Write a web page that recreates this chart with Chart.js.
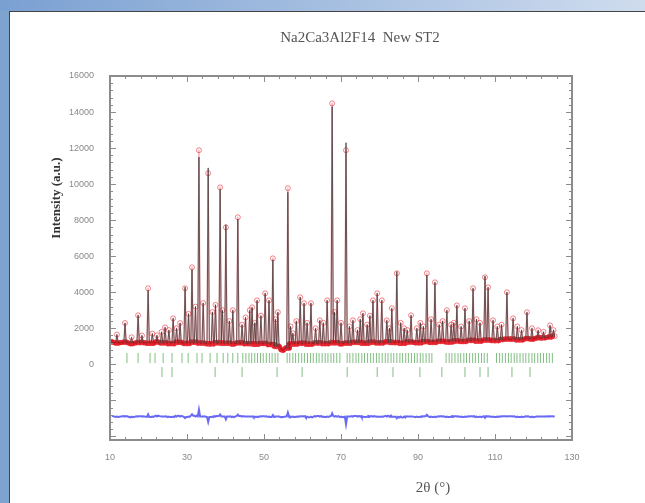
<!DOCTYPE html>
<html>
<head>
<meta charset="utf-8">
<script src="https://cdn.jsdelivr.net/npm/chart.js@4.4.0/dist/chart.umd.min.js"></script>
<style>
  html, body { margin: 0; padding: 0; background: #fff; }
  #frame { position: relative; width: 645px; height: 503px; background: #fff; overflow: hidden; }
  #leftbar { position: absolute; left: 0; top: 0; width: 9px; height: 503px; background: #7ea3cf; }
  #topbar { position: absolute; left: 0; top: 0; width: 645px; height: 11px; background: linear-gradient(to right, #7aa0d2, #cfdcee); }
  #edge { position: absolute; left: 9px; top: 11px; right: 0; bottom: 0; border-left: 1px solid #444; border-top: 1px solid #444; }
  canvas { position: absolute; left: 0; top: 0; }
</style>
</head>
<body>
<div id="frame">
  <div id="leftbar"></div>
  <div id="topbar"></div>
  <div id="edge"></div>
  <canvas id="rietveld" width="645" height="503"></canvas>
</div>
<script>
// tick labels
const xTicks = [10, 30, 50, 70, 90, 110, 130];
const yTicks = [0, 2000, 4000, 6000, 8000, 10000, 12000, 14000, 16000];

const peakPos = [11.8, 13.9, 15.6, 17.3, 18.3, 19.9, 21.0, 22.2, 23.4, 24.3, 25.3, 26.4, 27.3, 28.2, 29.5, 30.4, 31.3, 32.2, 33.1, 34.2,
  35.5, 36.6, 37.4, 38.6, 39.2, 40.1, 41.0, 41.9, 43.2, 44.3, 45.2, 46.3, 46.9, 47.6, 48.2, 49.2, 50.3, 51.3, 52.3, 53.0,
  53.6, 56.2, 56.9, 57.5, 58.4, 59.4, 60.4, 61.2, 62.2, 63.4, 64.5, 65.4, 66.4, 67.7, 68.3, 69.0, 70.0, 71.3, 72.2, 73.1,
  74.3, 75.0, 75.7, 76.8, 77.5, 78.3, 79.4, 80.6, 81.9, 82.6, 83.2, 84.5, 85.5, 86.4, 87.2, 88.2, 89.7, 90.6, 91.4, 92.3,
  93.4, 94.4, 95.5, 96.4, 97.5, 98.6, 99.3, 100.1, 101.2, 102.2, 103.3, 104.3, 105.2, 106.1, 107.4, 108.2, 109.5, 110.6, 111.7, 113.1,
  114.7, 115.8, 116.9, 118.3, 119.6, 121.2, 122.6, 124.3, 125.2];
const peakObs = [1650, 2290, 1500, 2720, 1600, 4220, 1700, 1610, 1800, 2050, 1900, 2550, 2000, 2290, 4220, 2800, 5380, 3200, 11880, 3400,
  10600, 2900, 3300, 9820, 3000, 7600, 2400, 3000, 8160, 2200, 2600, 3000, 3160, 2300, 3550, 2700, 3940, 3550, 5880, 2500,
  2890, 9770, 2100, 1720, 2400, 3720, 3390, 2300, 3390, 2000, 2440, 2300, 3550, 14480, 2900, 3550, 2300, 11880, 2100, 2440,
  1900, 2500, 2830, 2200, 2700, 3550, 3940, 3550, 2440, 2000, 3110, 5050, 2300, 2000, 1900, 2720, 2000, 2300, 2100, 5050,
  2500, 4550, 2200, 2400, 3000, 2200, 2300, 3270, 2100, 3110, 2400, 4220, 2500, 2300, 4830, 4270, 2440, 2100, 2200, 4000,
  2550, 2100, 1900, 2890, 2000, 1890, 1800, 2160, 1900];
const peakCalc = [1650, 2290, 1500, 2720, 1600, 4100, 1700, 1610, 1800, 2050, 1900, 2550, 2000, 2290, 4300, 2800, 5250, 3200, 11500, 3400,
  10900, 2900, 3300, 9700, 3000, 7750, 2400, 3000, 8050, 2200, 2600, 3000, 3160, 2300, 3550, 2700, 3940, 3550, 5800, 2500,
  2890, 9550, 2100, 1720, 2400, 3720, 3390, 2300, 3390, 2000, 2440, 2300, 3550, 14300, 2900, 3550, 2300, 12300, 2100, 2440,
  1900, 2500, 2830, 2200, 2700, 3550, 3940, 3550, 2440, 2000, 3110, 5150, 2300, 2000, 1900, 2720, 2000, 2300, 2100, 4950,
  2500, 4550, 2200, 2400, 3000, 2200, 2300, 3270, 2100, 3110, 2400, 4220, 2500, 2300, 4900, 4270, 2440, 2100, 2200, 4000,
  2550, 2100, 1900, 2890, 2000, 1890, 1800, 2160, 1900];

// background level between reflections
const bgPos = [10.5, 12, 14, 16, 18, 20, 22, 24, 26, 28, 30, 32, 34, 36, 38, 40, 42, 44, 46, 48,
  50, 52, 53.9, 54.4, 55, 55.6, 58, 60, 62, 64, 66, 68, 70, 72, 74, 76, 78, 80, 82, 84,
  86, 88, 90, 92, 94, 96, 98, 100, 102, 104, 106, 108, 110, 112, 114, 116, 118, 120, 122, 124, 125.6];
const bgObs = [1250, 1180, 1230, 1150, 1210, 1170, 1240, 1190, 1150, 1220, 1160, 1230, 1180, 1140, 1200, 1170, 1130, 1190, 1150, 1120,
  1160, 1100, 1000, 820, 780, 900, 1130, 1170, 1120, 1190, 1150, 1200, 1140, 1180, 1220, 1170, 1230, 1190, 1250, 1210,
  1170, 1240, 1200, 1260, 1220, 1280, 1240, 1300, 1270, 1330, 1290, 1350, 1320, 1380, 1400, 1360, 1430, 1400, 1470, 1520, 1560];
const bgCalc = [1210, 1200, 1200, 1190, 1190, 1190, 1190, 1180, 1180, 1180, 1180, 1180, 1170, 1170, 1170, 1160, 1160, 1160, 1150, 1150,
  1140, 1120, 1000, 850, 800, 900, 1150, 1150, 1160, 1160, 1170, 1170, 1170, 1180, 1190, 1190, 1200, 1200, 1210, 1220,
  1220, 1230, 1230, 1240, 1250, 1260, 1270, 1280, 1290, 1310, 1320, 1330, 1340, 1360, 1380, 1390, 1410, 1430, 1460, 1500, 1540];

// Bragg positions, two phases
const phase1 = [14.4, 17.3, 20.4, 21.7, 23.8, 26.1, 28.7, 30.3, 32.6, 33.9, 36.0, 37.8, 39.4, 40.6, 41.9, 43.2, 44.5, 45.3, 46.1, 46.8,
  47.6, 48.3, 49.1, 49.8, 50.6, 51.4, 52.1, 52.9, 53.6, 56.0, 56.7, 57.5, 58.2, 59.0, 59.8, 60.5, 61.3, 62.1, 62.8, 63.6,
  64.3, 65.1, 65.9, 66.6, 67.4, 68.1, 68.9, 69.7, 71.6, 72.3, 73.1, 73.9, 74.6, 75.4, 76.1, 76.9, 77.7, 78.4, 79.2, 79.9,
  80.7, 81.5, 82.2, 83.0, 83.7, 84.5, 85.3, 86.0, 86.8, 87.5, 88.3, 89.1, 89.8, 90.6, 91.3, 92.1, 92.9, 93.6, 97.3, 98.1,
  98.8, 99.6, 100.4, 101.1, 101.9, 102.6, 103.4, 104.2, 104.9, 105.7, 106.5, 107.2, 108.0, 110.4, 111.2, 111.9, 112.7, 113.5, 114.2, 115.0,
  115.7, 116.5, 117.3, 118.0, 118.8, 119.6, 120.3, 121.1, 121.8, 122.6, 123.4, 124.1, 124.9];
const phase2 = [23.5, 26.1, 37.3, 44.3, 53.4, 59.9, 71.6, 79.4, 83.5, 90.5, 96.2, 102.2, 106.1, 108.2, 114.4, 119.1];

const phase1Level = 350;
const phase2Level = -430;
const diffOffset = -2900;
const halfWidth = 0.3;

function nearestBg(arr, x) {
  let best = 0;
  for (let i = 1; i < bgPos.length; i++) {
    if (Math.abs(bgPos[i] - x) < Math.abs(bgPos[best] - x)) best = i;
  }
  return arr[best];
}

const obsPts = [];
const calcPts = [];
bgPos.forEach((x, i) => {
  if (peakPos.every(p => Math.abs(p - x) > 0.45)) {
    obsPts.push({ x: x, y: bgObs[i] });
    calcPts.push({ x: x, y: bgCalc[i] });
  }
});
peakPos.forEach((p, i) => {
  const bo = nearestBg(bgObs, p);
  const bc = nearestBg(bgCalc, p);
  obsPts.push({ x: p - halfWidth, y: bo }, { x: p, y: peakObs[i] }, { x: p + halfWidth, y: bo });
  calcPts.push({ x: p - halfWidth, y: bc }, { x: p, y: peakCalc[i] }, { x: p + halfWidth, y: bc });
});
obsPts.sort((a, b) => a.x - b.x);
calcPts.sort((a, b) => a.x - b.x);
const diffPts = obsPts.map((pt, i) => ({ x: pt.x, y: pt.y - calcPts[i].y + diffOffset }));

// baseline segments are drawn heavier, like the dense band of observed points
const isBase = c => Math.abs(c.p0.parsed.y - c.p1.parsed.y) < 250 && c.p0.parsed.y < 1700;

// inner ticks and box
const framePlugin = {
  id: 'frame',
  afterDatasetsDraw(chart) {
    const { ctx, chartArea: a, scales } = chart;
    ctx.save();
    ctx.strokeStyle = '#8c8c8c';
    ctx.lineWidth = 1;
    ctx.beginPath();
    for (let v = 10; v <= 130; v += 4) {
      const px = Math.round(scales.x.getPixelForValue(v)) + 0.5;
      const len = (v - 10) % 20 === 0 ? 6 : 3;
      ctx.moveTo(px, a.bottom); ctx.lineTo(px, a.bottom - len);
      ctx.moveTo(px, a.top); ctx.lineTo(px, a.top + len);
    }
    for (let v = -4000; v <= 16000; v += 400) {
      const py = Math.round(scales.y.getPixelForValue(v)) + 0.5;
      const len = v % 2000 === 0 ? 6 : 3;
      ctx.moveTo(a.left, py); ctx.lineTo(a.left + len, py);
      ctx.moveTo(a.right, py); ctx.lineTo(a.right - len, py);
    }
    ctx.stroke();
    ctx.lineWidth = 2;
    ctx.strokeRect(a.left, a.top, a.right - a.left, a.bottom - a.top);
    ctx.restore();
  }
};

const textPlugin = {
  id: 'texts',
  afterDraw(chart) {
    const ctx = chart.ctx;
    ctx.save();
    ctx.textAlign = 'center';
    ctx.textBaseline = 'middle';
    ctx.fillStyle = '#555';
    ctx.font = '15px "Liberation Serif"';
    ctx.fillText('Na2Ca3Al2F14  New ST2', 360, 38);
    ctx.fillText('2θ (°)', 433, 488);
    ctx.translate(57, 198);
    ctx.rotate(-Math.PI / 2);
    ctx.fillStyle = '#333';
    ctx.font = 'bold 13px "Liberation Serif"';
    ctx.fillText('Intensity (a.u.)', 0, 0);
    ctx.restore();
  }
};

new Chart(document.getElementById('rietveld'), {
  type: 'scatter',
  data: {
    datasets: [
      {
        label: 'calc',
        data: calcPts,
        showLine: true,
        borderColor: 'rgba(70,60,60,0.8)',
        borderWidth: 1,
        pointRadius: 0,
        segment: {
          borderColor: c => isBase(c) ? 'rgba(150,20,25,0.8)' : undefined
        },
        order: 1
      },
      {
        label: 'obs',
        data: obsPts,
        showLine: true,
        borderColor: 'rgba(230,80,90,0.45)',
        borderWidth: 1.5,
        borderJoinStyle: 'round',
        borderCapStyle: 'round',
        pointRadius: 2.5,
        pointStyle: 'circle',
        pointBackgroundColor: 'rgba(0,0,0,0)',
        pointBorderColor: 'rgba(230,50,60,0.6)',
        pointBorderWidth: 1,
        segment: {
          borderColor: c => isBase(c) ? 'rgb(228,20,30)' : undefined,
          borderWidth: c => isBase(c) ? 5 : undefined
        },
        order: 2
      },
      {
        label: 'diff',
        data: diffPts,
        showLine: true,
        borderColor: 'rgb(105,105,245)',
        borderWidth: 2,
        pointRadius: 0,
        order: 3
      },
      {
        label: 'phase 1',
        data: phase1.map(x => ({ x: x, y: phase1Level })),
        pointStyle: 'line',
        rotation: 90,
        pointRadius: 5,
        pointBorderWidth: 1,
        pointBorderColor: 'rgb(130,190,130)',
        order: 4
      },
      {
        label: 'phase 2',
        data: phase2.map(x => ({ x: x, y: phase2Level })),
        pointStyle: 'line',
        rotation: 90,
        pointRadius: 5,
        pointBorderWidth: 1,
        pointBorderColor: 'rgb(130,190,130)',
        order: 5
      }
    ]
  },
  options: {
    responsive: false,
    animation: false,
    events: [],
    layout: { padding: { left: 0, right: 73, top: 76, bottom: 0 } },
    plugins: { legend: { display: false }, tooltip: { enabled: false } },
    scales: {
      x: {
        type: 'linear',
        min: 10,
        max: 130,
        afterBuildTicks: s => { s.ticks = xTicks.map(v => ({ value: v })); },
        afterFit: s => { s.height = 63; },
        grid: { display: false, drawTicks: false },
        border: { display: false },
        ticks: { padding: 12, maxRotation: 0, color: '#888', font: { size: 9, family: 'Liberation Sans' }, callback: v => String(v) }
      },
      y: {
        min: -4200,
        max: 16000,
        afterBuildTicks: s => { s.ticks = yTicks.map(v => ({ value: v })); },
        afterFit: s => { s.width = 110; },
        grid: { display: false, drawTicks: false },
        border: { display: false },
        ticks: { padding: 16, color: '#888', font: { size: 9, family: 'Liberation Sans' }, callback: v => String(v) }
      }
    }
  },
  plugins: [framePlugin, textPlugin]
});
</script>
</body>
</html>
